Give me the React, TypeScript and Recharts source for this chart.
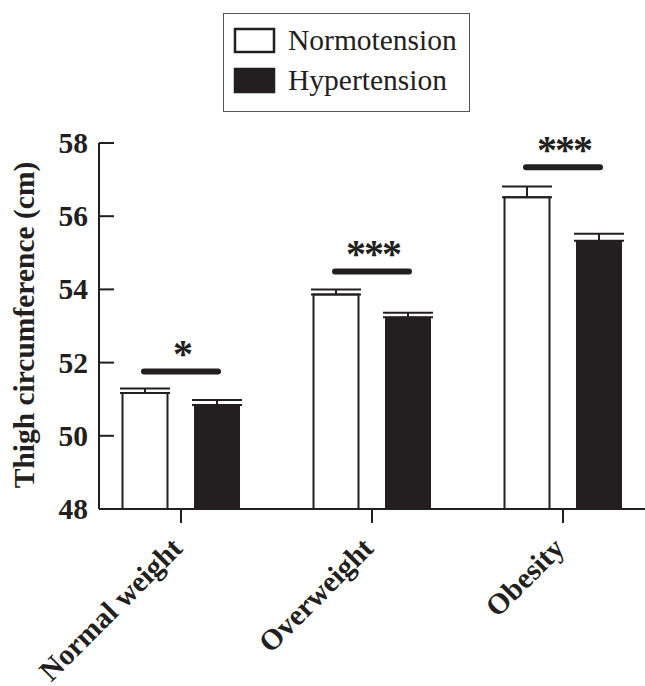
import { ComposedChart, Bar, XAxis, YAxis, ErrorBar, Scatter } from 'recharts';

const categories = ['Normal weight', 'Overweight', 'Obesity'];
const normotension = [51.17, 53.86, 56.52];
const normotensionErr = [0.12, 0.14, 0.29];
const hypertension = [50.84, 53.24, 55.33];
const hypertensionErr = [0.14, 0.12, 0.19];
const sigLevel = [51.76, 54.49, 57.34];
const sigMarks = ['*', '***', '***'];
const yTicks = [48, 50, 52, 54, 56, 58];

const INK = '#231f20';
const SERIF = '"Liberation Serif", "Times New Roman", serif';

const data = categories.map((name, i) => ({
  name,
  normo: normotension[i],
  normoErr: [0, normotensionErr[i]],
  hyper: hypertension[i],
  hyperErr: [0, hypertensionErr[i]],
  sig: sigLevel[i],
  mark: sigMarks[i],
}));

const legendItems = [
  { name: 'Normotension', fill: '#ffffff' },
  { name: 'Hypertension', fill: INK },
];

function YTick(props: any) {
  const { x, y, payload } = props;
  return (
    <g>
      <line x1={x} x2={x + 15} y1={y} y2={y} stroke={INK} strokeWidth={2} />
      <text x={x - 11} y={y + 10} textAnchor="end" fontFamily={SERIF} fontWeight="bold" fontSize={29.5} fill={INK}>
        {payload.value}
      </text>
    </g>
  );
}

function XTick(props: any) {
  const { x, y, payload } = props;
  const ex = x + 3;
  const ey = y + 27;
  return (
    <text
      x={ex}
      y={ey}
      transform={`rotate(-45, ${ex}, ${ey})`}
      textAnchor="end"
      fontFamily={SERIF}
      fontWeight="bold"
      fontSize={29.5}
      fill={INK}
    >
      {payload.value}
    </text>
  );
}

// significance bar + stars above each group
function SigMark(props: any) {
  const { cx, cy, payload } = props;
  return (
    <g>
      <line x1={cx - 37} x2={cx + 37} y1={cy} y2={cy} stroke={INK} strokeWidth={6} strokeLinecap="round" />
      <text
        x={cx + 1}
        y={cy - 4}
        textAnchor="middle"
        fontFamily={SERIF}
        fontWeight="bold"
        fontSize={40}
        letterSpacing={-2}
        fill={INK}
      >
        {payload.mark}
      </text>
    </g>
  );
}

function YLabel() {
  return (
    <text
      x={34}
      y={325}
      transform="rotate(-90, 34, 325)"
      textAnchor="middle"
      fontFamily={SERIF}
      fontWeight="bold"
      fontSize={29.5}
      fill={INK}
    >
      Thigh circumference (cm)
    </text>
  );
}

function LegendBox() {
  return (
    <svg
      width={247}
      height={99}
      style={{ position: 'absolute', left: 223, top: 13 }}
    >
      <rect x={0.5} y={0.5} width={246} height={98} fill="#ffffff" stroke="#555" strokeWidth={1} />
      {legendItems.map((item, i) => (
        <g key={item.name}>
          <rect
            x={12}
            y={16 + i * 40}
            width={39}
            height={23}
            fill={item.fill}
            stroke={INK}
            strokeWidth={2.5}
          />
          <text x={65} y={37 + i * 40} fontFamily={SERIF} fontSize={29.5} fill={INK}>
            {item.name}
          </text>
        </g>
      ))}
    </svg>
  );
}

export default function App() {
  return (
    <div
      style={{
        position: 'fixed',
        left: 0,
        top: 0,
        width: 645,
        height: 686,
        overflow: 'hidden',
        background: '#ffffff',
      }}
    >
      <ComposedChart
        width={700}
        height={686}
        data={data}
        margin={{ top: 143, right: 0, left: 0, bottom: 0 }}
        barSize={45}
        barGap={27}
      >
        <XAxis
          dataKey="name"
          height={177}
          padding={{ left: -13.5, right: 41.5 }}
          axisLine={{ stroke: INK, strokeWidth: 2 }}
          tickLine={{ stroke: INK, strokeWidth: 2 }}
          tickSize={14}
          tickMargin={0}
          tick={<XTick />}
          interval={0}
        />
        <YAxis
          width={99}
          domain={[48, 58]}
          ticks={yTicks}
          axisLine={{ stroke: INK, strokeWidth: 2 }}
          tickLine={false}
          tickSize={0}
          tickMargin={0}
          tick={<YTick />}
          label={<YLabel />}
        />
        <Bar dataKey="normo" name="Normotension" fill="#ffffff" stroke={INK} strokeWidth={2} isAnimationActive={false}>
          <ErrorBar dataKey="normoErr" width={25} stroke={INK} strokeWidth={2} direction="y" />
        </Bar>
        <Bar dataKey="hyper" name="Hypertension" fill={INK} stroke={INK} strokeWidth={1} isAnimationActive={false}>
          <ErrorBar dataKey="hyperErr" width={25} stroke={INK} strokeWidth={2} direction="y" />
        </Bar>
        <Scatter dataKey="sig" shape={<SigMark />} isAnimationActive={false} />
      </ComposedChart>
      <LegendBox />
    </div>
  );
}
